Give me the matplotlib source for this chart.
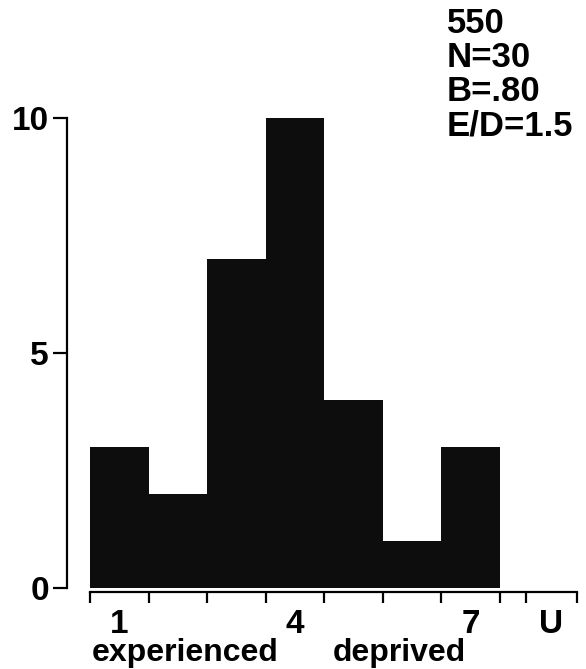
import matplotlib
matplotlib.use("Agg")
import matplotlib.pyplot as plt

# histogram counts for ratings 1..7, plus the "U" bin
ratings = [1, 2, 3, 4, 5, 6, 7]
counts = [3, 2, 7, 10, 4, 1, 3]
u_count = 0
u_pos = 8.38
u_width = 0.87

tick_labels = ["1", "4", "7", "U"]
label_pos = [1, 4, 7, u_pos]
y_ticks = [0, 5, 10]
info_lines = ["550", "N=30", "B=.80", "E/D=1.5"]

plt.rcParams['font.family'] = ['Liberation Sans', 'DejaVu Sans']
plt.rcParams['font.weight'] = 'bold'

fig = plt.figure(figsize=(5.86, 6.69), dpi=100)
ax = fig.add_axes([67/586, 81/669, 510/586, 470/669])

bin_edges = [r - 0.5 for r in ratings] + [ratings[-1] + 0.5]
ax.stairs(counts, bin_edges, fill=True, color='#0d0d0d')
ax.bar([u_pos], [u_count], width=u_width, color='#0d0d0d')

ax.set_xlim(0.107, 8.815)
ax.set_ylim(0, 10)

for s in ['top', 'right']:
    ax.spines[s].set_visible(False)
ax.spines['left'].set_bounds(0, 10)
ax.spines['left'].set_linewidth(1.6)
ax.spines['bottom'].set_position(('outward', 3))
ax.spines['bottom'].set_bounds(0.5, u_pos + u_width / 2)
ax.spines['bottom'].set_linewidth(1.6)

ax.set_yticks(y_ticks)
ax.set_yticklabels([str(v) for v in y_ticks], fontsize=24, fontweight='bold')
ax.tick_params(axis='y', direction='out', length=10, width=1.6, pad=3)

edges = bin_edges + [u_pos - u_width / 2, u_pos + u_width / 2]
ax.set_xticks(edges)
ax.set_xticklabels([])
ax.tick_params(axis='x', which='major', direction='out', length=8, width=1.6)
ax.set_xticks(label_pos, minor=True)
ax.set_xticklabels(tick_labels, minor=True, fontsize=24, fontweight='bold')
ax.tick_params(axis='x', which='minor', length=0, pad=12)

ax.text(2.12, -1.38, "experienced", fontsize=23, fontweight='bold', ha='center', va='center')
ax.text(5.78, -1.38, "deprived", fontsize=23, fontweight='bold', ha='center', va='center')

for i, line in enumerate(info_lines):
    fig.text(447/586, 1 - (23.5 + 34 * i) / 669, line, fontsize=25, fontweight='bold',
             ha='left', va='center')

fig.savefig("out.png", dpi=100)
